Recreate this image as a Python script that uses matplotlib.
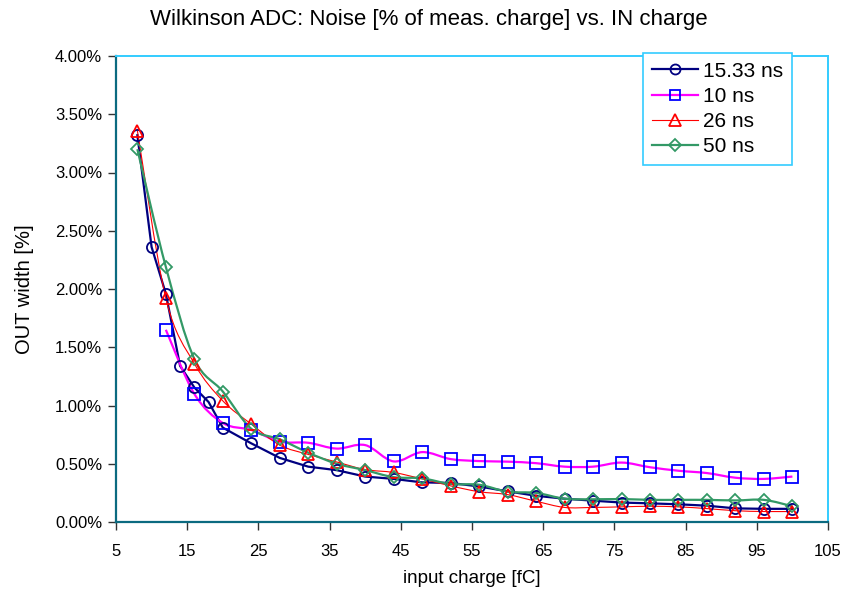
import matplotlib
matplotlib.use("Agg")
import matplotlib.pyplot as plt
from matplotlib.path import Path
from matplotlib.patches import PathPatch
from matplotlib.lines import Line2D
from matplotlib.ticker import FuncFormatter, MultipleLocator

plt.rcParams['font.family'] = ['Liberation Sans', 'DejaVu Sans']

# input charge [fC] and noise [% of measured charge]
x_1533 = [8, 10, 12, 14, 16, 18, 20, 24, 28, 32, 36, 40, 44, 48, 52, 56, 60,
          64, 68, 72, 76, 80, 84, 88, 92, 96, 100]
y_1533 = [3.32, 2.36, 1.96, 1.34, 1.155, 1.03, 0.81, 0.675, 0.55, 0.475, 0.445,
          0.39, 0.37, 0.34, 0.335, 0.305, 0.263, 0.225, 0.20, 0.183, 0.167,
          0.16, 0.152, 0.14, 0.117, 0.113, 0.113]

x_10 = [12, 16, 20, 24, 28, 32, 36, 40, 44, 48, 52, 56, 60, 64, 68, 72, 76,
        80, 84, 88, 92, 96, 100]
y_10 = [1.65, 1.10, 0.85, 0.79, 0.69, 0.68, 0.63, 0.66, 0.52, 0.60, 0.54,
        0.523, 0.518, 0.505, 0.475, 0.475, 0.51, 0.47, 0.44, 0.42, 0.38, 0.37,
        0.39]

x_26 = [8, 12, 16, 20, 24, 28, 32, 36, 40, 44, 48, 52, 56, 60, 64, 68, 72,
        76, 80, 84, 88, 92, 96, 100]
y_26 = [3.36, 1.92, 1.36, 1.04, 0.84, 0.66, 0.58, 0.515, 0.45, 0.425, 0.37,
        0.31, 0.26, 0.235, 0.178, 0.125, 0.125, 0.13, 0.135, 0.13, 0.115,
        0.097, 0.09, 0.09]

x_50 = [8, 12, 16, 20, 24, 28, 32, 36, 40, 44, 48, 52, 56, 60, 64, 68, 72,
        76, 80, 84, 88, 92, 96, 100]
y_50 = [3.20, 2.19, 1.40, 1.12, 0.80, 0.71, 0.595, 0.50, 0.445, 0.385, 0.375,
        0.326, 0.32, 0.26, 0.25, 0.20, 0.195, 0.197, 0.19, 0.19, 0.19, 0.185,
        0.19, 0.135]

labels = ["15.33 ns", "10 ns", "26 ns", "50 ns"]
x_ticks = [5, 15, 25, 35, 45, 55, 65, 75, 85, 95, 105]


def smooth_path(xs, ys):
    """Bezier path through the points, spreadsheet-style smoothing."""
    pts = list(zip(xs, ys))
    n = len(pts)
    verts = [pts[0]]
    codes = [Path.MOVETO]
    for i in range(n - 1):
        p0 = pts[i - 1] if i > 0 else pts[i]
        p1 = pts[i]
        p2 = pts[i + 1]
        p3 = pts[i + 2] if i + 2 < n else pts[i + 1]
        c1 = (p1[0] + (p2[0] - p0[0]) / 6.0, p1[1] + (p2[1] - p0[1]) / 6.0)
        c2 = (p2[0] - (p3[0] - p1[0]) / 6.0, p2[1] - (p3[1] - p1[1]) / 6.0)
        verts += [c1, c2, p2]
        codes += [Path.CURVE4] * 3
    return Path(verts, codes)


fig = plt.figure(figsize=(8.49, 6.0), dpi=100)
ax = fig.add_axes([116 / 849, 78 / 600, 712 / 849, 466 / 600])

styles = [
    dict(x=x_1533, y=y_1533, color="#000080", lw=1.6, mk="o", mc="#000080",
         ms=8, smooth=False),
    dict(x=x_10, y=y_10, color="#FF00FF", lw=1.6, mk="s", mc="#0000FF",
         ms=8.5, smooth=True),
    dict(x=x_26, y=y_26, color="#FF0000", lw=0.8, mk="^", mc="#FF0000",
         ms=9, smooth=True),
    dict(x=x_50, y=y_50, color="#339966", lw=1.6, mk="D", mc="#339966",
         ms=6.5, smooth=True),
]

handles = []
for st, lab in zip(styles, labels):
    if st["smooth"]:
        ax.add_patch(PathPatch(smooth_path(st["x"], st["y"]), fill=False,
                               edgecolor=st["color"], lw=st["lw"], zorder=3))
    else:
        ax.plot(st["x"], st["y"], color=st["color"], lw=st["lw"], zorder=3)
    ax.plot(st["x"], st["y"], ls="none", marker=st["mk"], ms=st["ms"],
            mfc="none", mec=st["mc"], mew=1.3, zorder=4)
    handles.append(Line2D([], [], color=st["color"], lw=st["lw"],
                          marker=st["mk"], ms=st["ms"] * 0.9, mfc="none",
                          mec=st["mc"], mew=1.3))

ax.set_xlim(5, 105)
ax.set_ylim(0, 4.0)
ax.set_xticks(x_ticks)
ax.yaxis.set_major_locator(MultipleLocator(0.5))
ax.yaxis.set_major_formatter(FuncFormatter(lambda v, p: f"{v:.2f}%"))

for side in ("left", "bottom"):
    ax.spines[side].set_color("#0B6A80")
    ax.spines[side].set_linewidth(1.6)
for side in ("top", "right"):
    ax.spines[side].set_color("#33CCFF")
    ax.spines[side].set_linewidth(1.4)

ax.tick_params(axis="both", direction="out", length=6, width=1,
               color="#333333", labelsize=12, labelcolor="black")
ax.tick_params(axis="x", pad=10)
ax.tick_params(axis="y", pad=4)

ax.set_xlabel("input charge [fC]", fontsize=13.5, labelpad=8)
ax.set_ylabel("OUT width [%]", fontsize=14.5, labelpad=15)

fig.text(0.505, 1 - 20 / 600, "Wilkinson ADC: Noise [% of meas. charge] vs. IN charge",
         ha="center", va="center", fontsize=16)

leg = ax.legend(handles, labels, loc="upper left",
                bbox_to_anchor=(643 / 849, 1 - 53 / 600),
                bbox_transform=fig.transFigure, fontsize=15,
                frameon=True, fancybox=False, framealpha=1,
                edgecolor="#33CCFF", handlelength=2.2, handletextpad=0.25,
                labelspacing=0.3, borderpad=0.42, borderaxespad=0)
leg.get_frame().set_linewidth(1.2)
leg.set_zorder(10)

fig.savefig("out.png", dpi=100)
